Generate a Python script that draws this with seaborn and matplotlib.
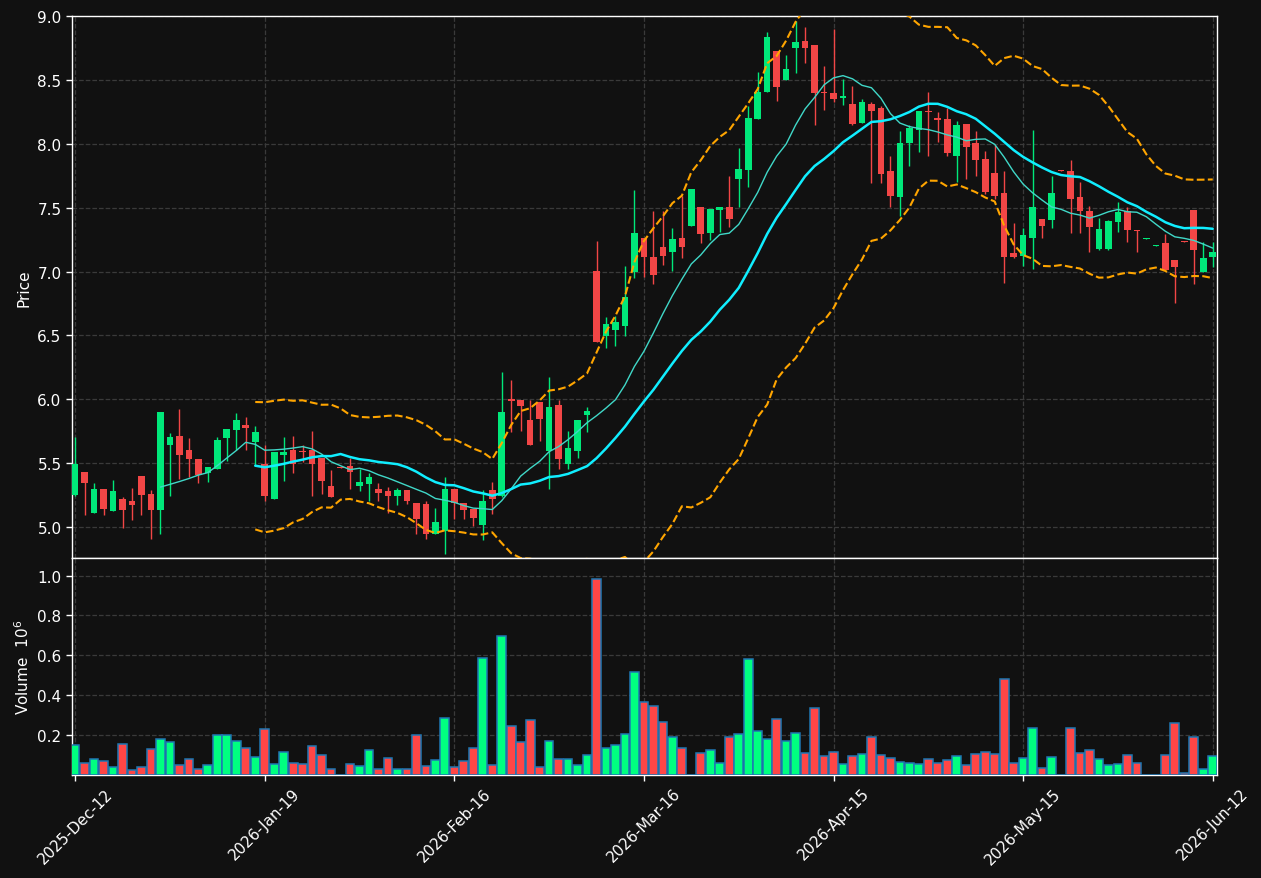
import numpy as np
import pandas as pd
import matplotlib
matplotlib.use('Agg')
import matplotlib.pyplot as plt
import seaborn as sns

# daily OHLC + volume (1e6)
open_ = [5.248, 5.428, 5.107, 5.295, 5.123, 5.217, 5.201, 5.397, 5.256, 5.133,
         5.642, 5.710, 5.601, 5.535, 5.426, 5.454, 5.697, 5.760, 5.796, 5.666,
         5.496, 5.219, 5.566, 5.603, 5.587, 5.603, 5.540, 5.321, 5.470, 5.478,
         5.324, 5.339, 5.300, 5.279, 5.245, 5.290, 5.188, 5.180, 4.948, 4.966,
         5.298, 5.188, 5.141, 5.018, 5.290, 5.240, 6.002, 5.994, 5.837, 5.976,
         5.597, 5.955, 5.495, 5.597, 5.879, 7.004, 6.497, 6.544, 6.576, 6.998,
         7.261, 7.111, 7.189, 7.156, 7.263, 7.359, 7.503, 7.304, 7.479, 7.503,
         7.727, 7.797, 8.197, 8.408, 8.724, 8.502, 8.752, 8.802, 8.773, 8.405,
         8.396, 8.361, 8.311, 8.165, 8.311, 8.280, 7.787, 7.586, 8.006, 8.110,
         8.259, 8.202, 8.194, 7.907, 8.155, 8.006, 7.881, 7.771, 7.615, 7.142,
         7.119, 7.265, 7.411, 7.406, 7.795, 7.787, 7.583, 7.474, 7.176, 7.176,
         7.390, 7.471, 7.325, 7.252, 7.200, 7.223, 7.090, 7.236, 7.481, 6.999,
         7.116]
high = [5.705, 5.428, 5.347, 5.295, 5.366, 5.238, 5.308, 5.397, 5.287, 5.898,
        5.739, 5.927, 5.700, 5.535, 5.473, 5.708, 5.765, 5.890, 5.859, 5.794,
        5.645, 5.587, 5.702, 5.712, 5.642, 5.752, 5.540, 5.449, 5.470, 5.538,
        5.454, 5.423, 5.344, 5.310, 5.303, 5.290, 5.188, 5.204, 5.149, 5.389,
        5.298, 5.188, 5.141, 5.290, 5.350, 6.210, 6.150, 5.994, 5.994, 5.976,
        6.171, 5.996, 5.749, 5.837, 5.936, 7.236, 6.641, 6.654, 7.045, 7.640,
        7.261, 7.477, 7.477, 7.338, 7.594, 7.646, 7.503, 7.490, 7.503, 7.751,
        7.964, 8.298, 8.559, 8.872, 8.724, 8.693, 8.964, 8.912, 8.773, 8.612,
        8.895, 8.504, 8.455, 8.348, 8.324, 8.298, 7.904, 8.097, 8.149, 8.259,
        8.402, 8.251, 8.277, 8.181, 8.155, 8.097, 7.941, 7.990, 7.787, 7.380,
        7.338, 8.110, 7.411, 7.750, 7.795, 7.875, 7.698, 7.510, 7.416, 7.403,
        7.547, 7.502, 7.325, 7.262, 7.210, 7.291, 7.090, 7.236, 7.481, 7.234,
        7.228]
low = [5.240, 5.094, 5.107, 5.094, 5.123, 4.995, 5.055, 5.094, 4.909, 4.945,
       5.243, 5.373, 5.392, 5.347, 5.355, 5.454, 5.520, 5.606, 5.606, 5.478,
       5.204, 5.219, 5.357, 5.423, 5.506, 5.245, 5.258, 5.237, 5.465, 5.297,
       5.284, 5.201, 5.201, 5.107, 5.175, 5.177, 4.948, 4.904, 4.948, 4.789,
       5.063, 5.063, 5.005, 4.898, 5.102, 5.232, 5.741, 5.754, 5.644, 5.675,
       5.297, 5.454, 5.454, 5.537, 5.741, 6.445, 6.398, 6.419, 6.497, 6.946,
       6.958, 6.902, 7.054, 7.002, 7.103, 7.359, 7.221, 7.250, 7.307, 7.346,
       7.503, 7.659, 8.197, 8.408, 8.332, 8.502, 8.552, 8.630, 8.147, 8.267,
       8.324, 8.303, 8.147, 8.165, 7.690, 7.690, 7.502, 7.437, 7.826, 7.933,
       7.907, 8.016, 7.907, 7.698, 7.724, 7.750, 7.607, 7.567, 6.907, 7.103,
       7.046, 7.020, 7.262, 7.338, 7.790, 7.299, 7.299, 7.150, 7.171, 7.171,
       7.307, 7.228, 7.150, 7.252, 7.200, 7.014, 6.751, 7.232, 6.900, 6.999,
       7.033]
close = [5.491, 5.342, 5.295, 5.138, 5.279, 5.133, 5.170, 5.248, 5.133, 5.898,
         5.702, 5.564, 5.530, 5.407, 5.473, 5.679, 5.765, 5.836, 5.775, 5.741,
         5.243, 5.587, 5.587, 5.496, 5.584, 5.496, 5.363, 5.237, 5.465, 5.433,
         5.352, 5.391, 5.269, 5.245, 5.290, 5.201, 5.065, 4.948, 5.039, 5.298,
         5.185, 5.136, 5.071, 5.204, 5.219, 5.897, 5.989, 5.949, 5.644, 5.848,
         5.939, 5.535, 5.618, 5.837, 5.908, 6.445, 6.589, 6.604, 6.800, 7.301,
         7.116, 6.975, 7.124, 7.252, 7.189, 7.646, 7.297, 7.490, 7.503, 7.414,
         7.800, 8.199, 8.403, 8.833, 8.447, 8.585, 8.794, 8.752, 8.400, 8.400,
         8.347, 8.374, 8.155, 8.324, 8.259, 7.763, 7.594, 8.006, 8.123, 8.259,
         8.251, 8.189, 7.928, 8.147, 7.977, 7.875, 7.622, 7.588, 7.116, 7.116,
         7.286, 7.505, 7.359, 7.615, 7.790, 7.568, 7.476, 7.351, 7.333, 7.395,
         7.466, 7.328, 7.320, 7.262, 7.210, 7.014, 7.038, 7.232, 7.171, 7.106,
         7.153]
volume = [0.150, 0.060, 0.080, 0.070, 0.040, 0.155, 0.025, 0.040, 0.130, 0.180,
          0.165, 0.050, 0.080, 0.030, 0.050, 0.200, 0.200, 0.170, 0.135, 0.090,
          0.230, 0.055, 0.115, 0.060, 0.055, 0.145, 0.100, 0.030, 0.000, 0.055,
          0.045, 0.125, 0.030, 0.085, 0.030, 0.030, 0.200, 0.045, 0.075, 0.285,
          0.040, 0.070, 0.135, 0.585, 0.050, 0.695, 0.245, 0.165, 0.275, 0.040,
          0.170, 0.080, 0.080, 0.050, 0.100, 0.985, 0.135, 0.150, 0.205, 0.515,
          0.365, 0.345, 0.265, 0.190, 0.135, 0.000, 0.110, 0.125, 0.060, 0.190,
          0.205, 0.580, 0.220, 0.180, 0.280, 0.170, 0.210, 0.110, 0.335, 0.095,
          0.115, 0.055, 0.095, 0.105, 0.190, 0.100, 0.085, 0.065, 0.060, 0.055,
          0.080, 0.060, 0.075, 0.095, 0.050, 0.105, 0.115, 0.105, 0.480, 0.060,
          0.085, 0.235, 0.035, 0.090, 0.000, 0.235, 0.110, 0.125, 0.080, 0.050,
          0.055, 0.100, 0.060, 0.000, 0.000, 0.100, 0.260, 0.010, 0.190, 0.030,
          0.095]
tick_labels = ['2025-Dec-12', '2026-Jan-19', '2026-Feb-16', '2026-Mar-16',
               '2026-Apr-15', '2026-May-15', '2026-Jun-12']

df = pd.DataFrame({'open': open_, 'high': high, 'low': low,
                   'close': close, 'volume': volume})
df['i'] = np.arange(len(df))
df['ma10'] = df['close'].rolling(10).mean()
df['ma20'] = df['close'].rolling(20).mean()
sd = df['close'].rolling(20).std(ddof=0)
df['bb_up'] = df['ma20'] + 2 * sd
df['bb_lo'] = df['ma20'] - 2 * sd

bg = '#111111'
green = '#00e87a'
red = '#f24646'
vgreen = '#00ff80'
vred = '#ff4646'
sns.set_theme(style='dark', rc={
    'figure.facecolor': bg, 'axes.facecolor': bg, 'axes.edgecolor': 'white',
    'axes.labelcolor': 'white', 'text.color': 'white',
    'xtick.color': 'white', 'ytick.color': 'white',
    'axes.grid': True, 'grid.color': '#3a3a3a', 'grid.linestyle': '--',
    'grid.linewidth': 0.9, 'xtick.bottom': True, 'ytick.left': True,
})
plt.rcParams['font.family'] = ['DejaVu Sans']

fig = plt.figure(figsize=(12.61, 8.79), dpi=100)
ax1 = fig.add_axes([0.0571, 0.364, 0.908, 0.6166])
ax2 = fig.add_axes([0.0571, 0.1172, 0.908, 0.2469], sharex=ax1)

up = df['close'] >= df['open']
cols = np.where(up, green, red)
vcols = np.where(up, vgreen, vred)

# candles
ax1.vlines(df['i'], df['low'], df['high'], colors=cols, lw=1, zorder=3)
body = np.maximum((df['close'] - df['open']).abs(), 0.008)
ax1.bar(df['i'], body, bottom=np.minimum(df['open'], df['close']),
        width=0.7, color=cols, lw=0, zorder=4)

# moving averages and bands
sns.lineplot(data=df, x='i', y='ma10', ax=ax1, color='#40d8c8', lw=1, zorder=5)
sns.lineplot(data=df, x='i', y='ma20', ax=ax1, color='#10eeff', lw=1.8, zorder=5)
sns.lineplot(data=df, x='i', y='bb_up', ax=ax1, color='orange', lw=1.5,
             linestyle='--', zorder=5)
sns.lineplot(data=df, x='i', y='bb_lo', ax=ax1, color='orange', lw=1.5,
             linestyle='--', zorder=5)

# volume
ax2.bar(df['i'], df['volume'], width=0.92, color=vcols,
        edgecolor='#1f77b4', lw=1.1, zorder=3)

ax1.set_xlim(-0.33, 120.45)
ax1.set_ylim(4.757, 9.0)
ax1.set_yticks(np.arange(5.0, 9.01, 0.5))
ax1.set_yticklabels([f'{v:.1f}' for v in np.arange(5.0, 9.01, 0.5)], fontsize=11)
ax1.set_ylabel('Price', fontsize=11)
ax1.set_xlabel('')
ax1.tick_params(axis='x', labelbottom=False, length=0)
ax1.tick_params(axis='y', length=4, width=1)

ax2.set_ylim(0, 1.088)
ax2.set_yticks([0.2, 0.4, 0.6, 0.8, 1.0])
ax2.set_yticklabels(['0.2', '0.4', '0.6', '0.8', '1.0'], fontsize=11)
ax2.set_ylabel('Volume  $10^{6}$', fontsize=11)
ax2.set_xticks(np.arange(0, 121, 20))
ax2.set_xticklabels(tick_labels, rotation=45, ha='center', fontsize=11)
ax2.tick_params(axis='both', length=4, width=1)

for ax in (ax1, ax2):
    ax.grid(True, axis='both')
    for s in ax.spines.values():
        s.set_color('white')
        s.set_linewidth(1)

fig.savefig('out.png', dpi=100, facecolor=bg)
